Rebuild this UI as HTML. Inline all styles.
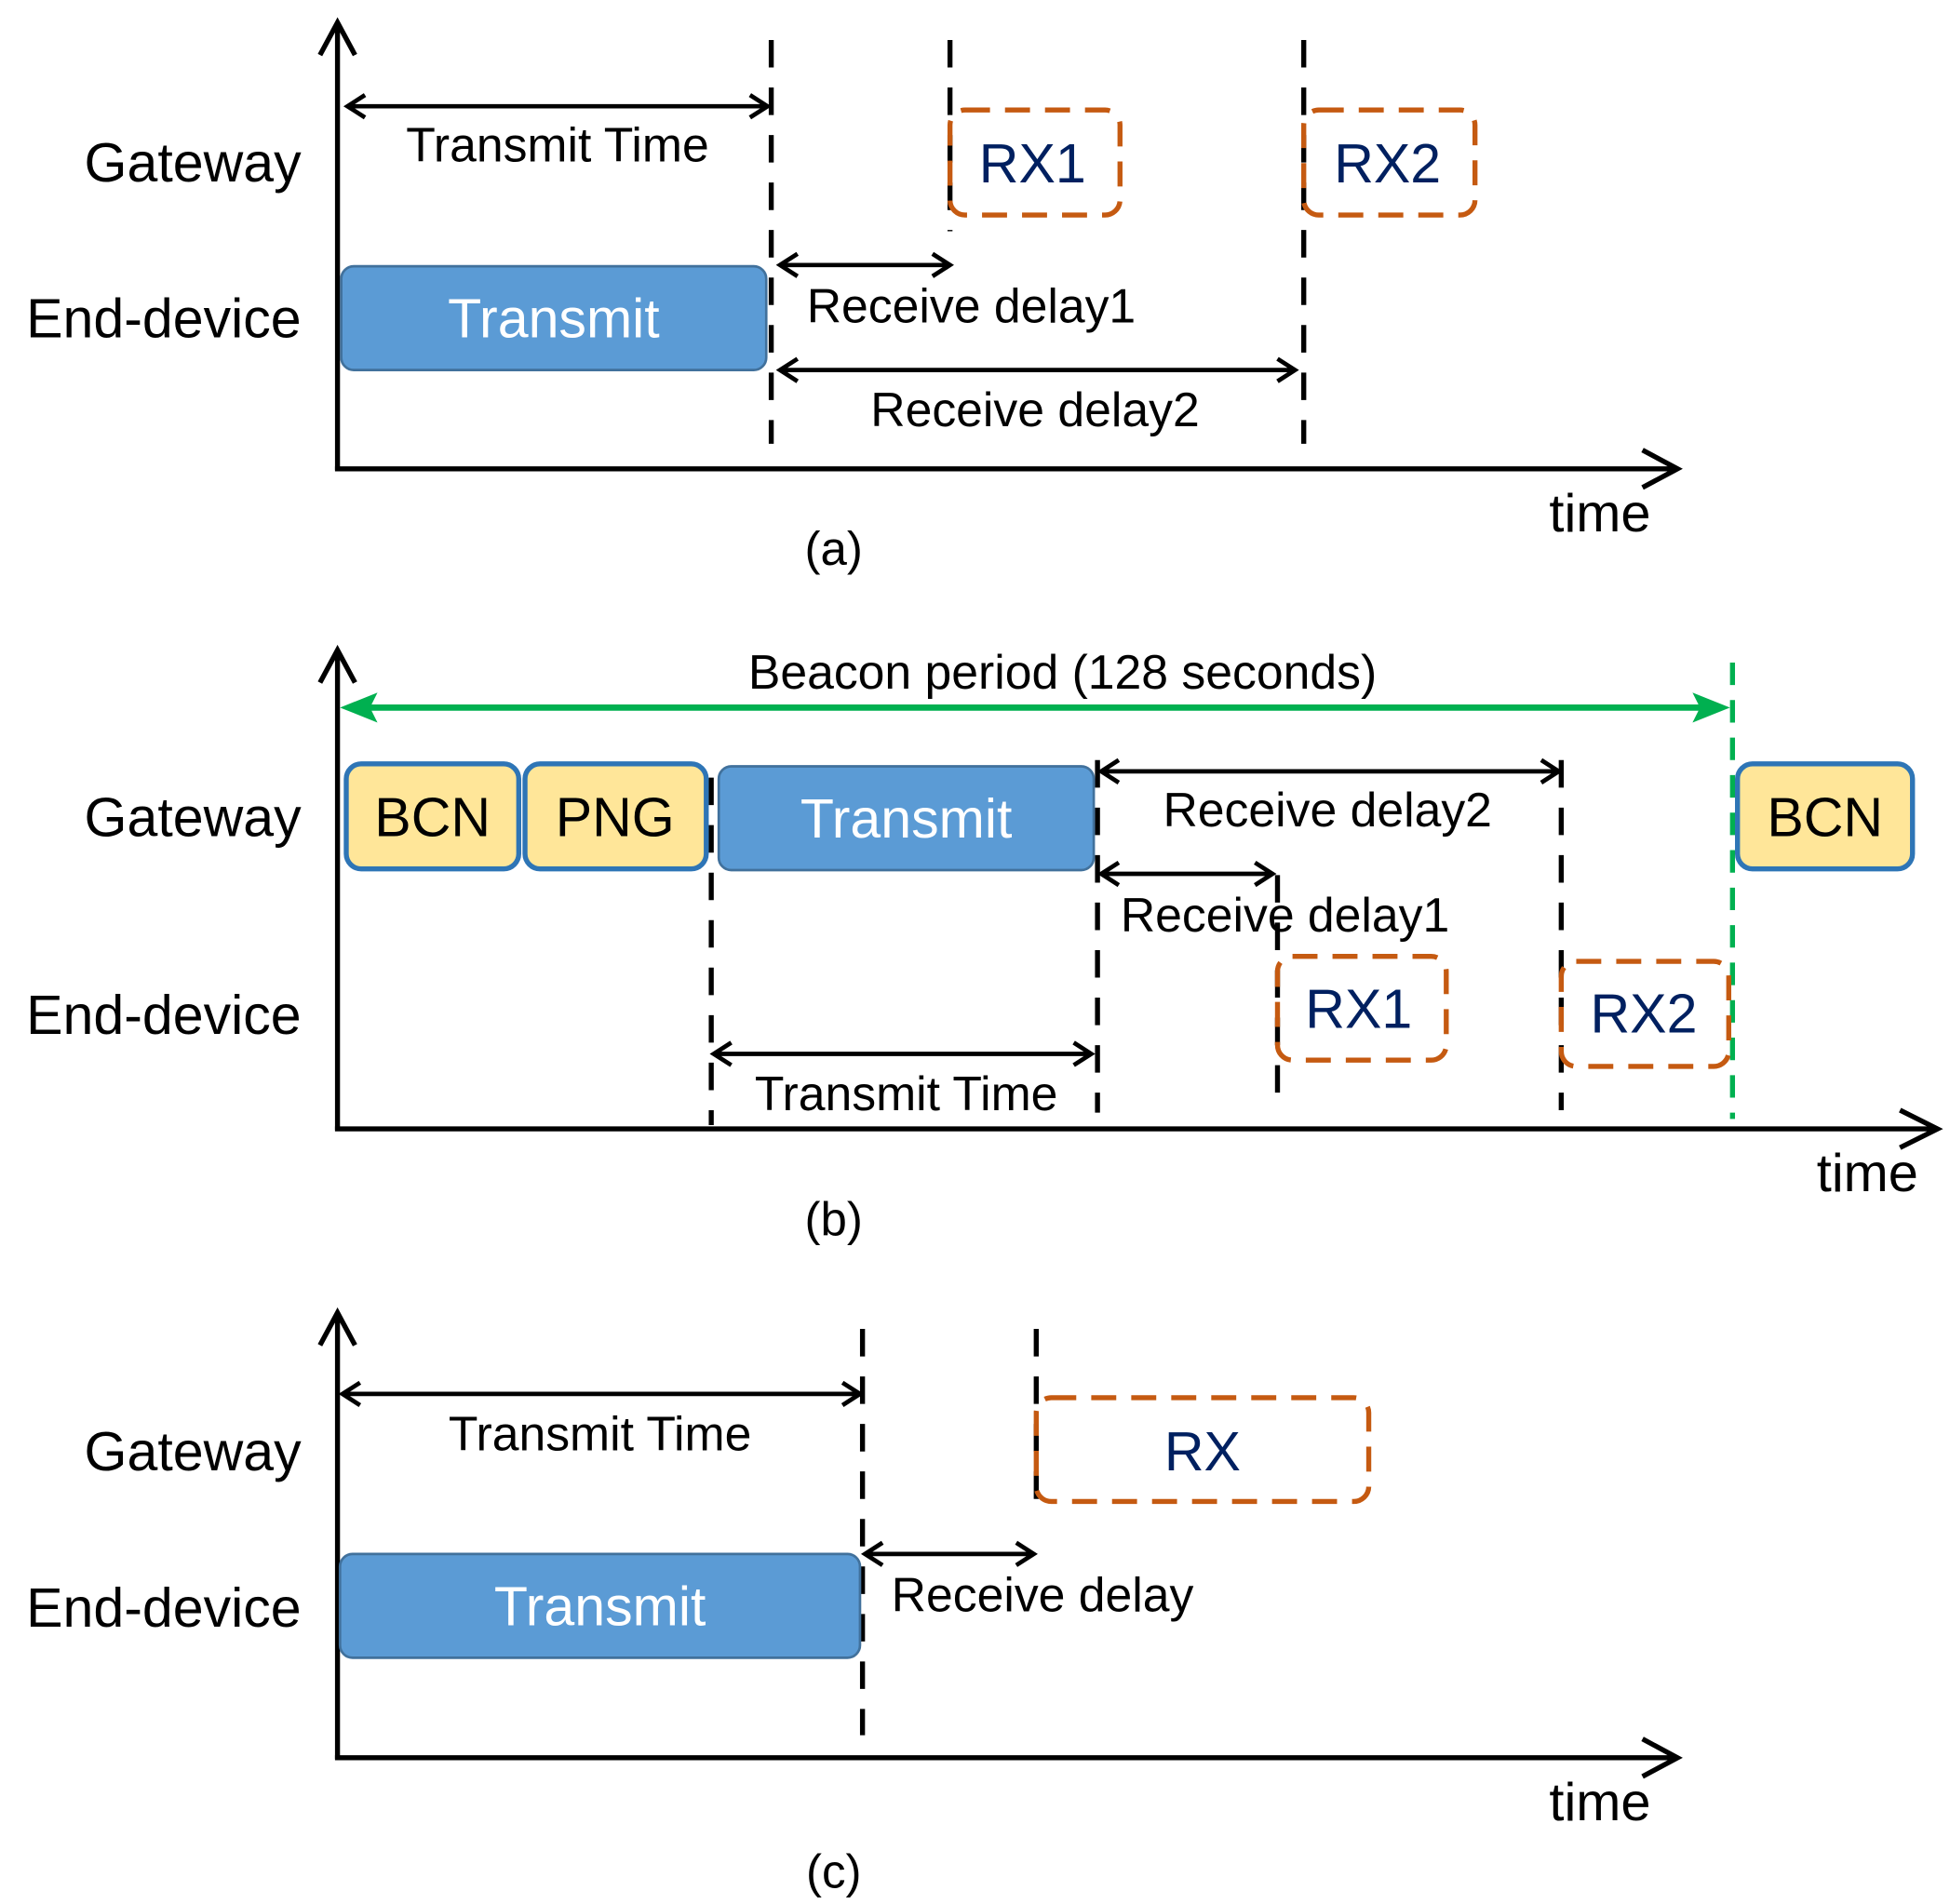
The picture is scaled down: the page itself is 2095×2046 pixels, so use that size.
<!DOCTYPE html>
<html><head><style>html,body{margin:0;padding:0;background:#fff}svg{display:block}text{font-family:"Liberation Sans",Arial,sans-serif}</style></head>
<body>
<svg width="2095" height="2046" viewBox="0 0 1560 1523" preserveAspectRatio="none" xmlns="http://www.w3.org/2000/svg">
<g fill="none" stroke="#000">
<g stroke-width="4">
<path d="M270,376 V22 M256,44 L270,18 L284,44"/>
<path d="M268,375 H1340 M1314,360 L1342,375 L1314,390"/>
<path d="M270,904 V522 M256,546 L270,520 L284,546"/>
<path d="M268,903 H1548 M1520,888 L1550,903 L1520,918"/>
<path d="M270,1407 V1052 M256,1076 L270,1050 L284,1076"/>
<path d="M268,1406 H1340 M1314,1391 L1342,1406 L1314,1421"/>
</g>
<g stroke-width="4" stroke-dasharray="22,16">
<path d="M617,32 V355 M760,32 V185 M1043,32 V355"/>
<path d="M569,622 V900 M878,608 V890 M1022,700 V888 M1249,608 V888"/>
<path d="M690,1063 V1388 M829,1063 V1215"/>
</g>
<g stroke-width="3.5">
<path d="M278,85 H614 M292,76 L278,85 L292,94 M600,76 L614,85 L600,94"/>
<path d="M624,212 H760 M638,203 L624,212 L638,221 M746,203 L760,212 L746,221"/>
<path d="M624,296 H1036 M638,287 L624,296 L638,305 M1022,287 L1036,296 L1022,305"/>
<path d="M881,617 H1247 M895,608 L881,617 L895,626 M1233,608 L1247,617 L1233,626"/>
<path d="M881,699 H1018 M895,690 L881,699 L895,708 M1004,690 L1018,699 L1004,708"/>
<path d="M571,843 H873 M585,834 L571,843 L585,852 M859,834 L873,843 L859,852"/>
<path d="M274,1115 H688 M288,1106 L274,1115 L288,1124 M674,1106 L688,1115 L674,1124"/>
<path d="M692,1243 H827 M706,1234 L692,1243 L706,1252 M813,1234 L827,1243 L813,1252"/>
</g>
</g>
<path d="M1386,530 V895" stroke="#00b050" stroke-width="4" stroke-dasharray="18,12" fill="none"/>
<path d="M290,566 H1366" stroke="#00b050" stroke-width="5" fill="none"/>
<path d="M272,566 L302,554 L296,566 L302,578z M1384,566 L1354,554 L1360,566 L1354,578z" fill="#00b050"/>
<g stroke="#41719c" stroke-width="2" fill="#5b9bd5">
<rect x="273" y="213" width="340" height="83" rx="10"/>
<rect x="575" y="613" width="300" height="83" rx="10"/>
<rect x="272" y="1243" width="416" height="83" rx="10"/>
</g>
<g stroke="#2e75b6" stroke-width="4" fill="#ffe699">
<rect x="277" y="611" width="138" height="84" rx="12"/>
<rect x="420" y="611" width="145" height="84" rx="12"/>
<rect x="1390" y="611" width="140" height="84" rx="12"/>
</g>
<g stroke="#c55a11" stroke-width="4" fill="none" stroke-dasharray="20,12">
<rect x="760" y="88" width="136" height="84" rx="12"/>
<rect x="1043" y="88" width="137" height="84" rx="12"/>
<rect x="1022" y="765" width="135" height="83" rx="12"/>
<rect x="1249" y="769" width="134" height="84" rx="12"/>
<rect x="829" y="1118" width="266" height="83" rx="12"/>
</g>
<g font-size="44" text-anchor="end" fill="#000">
<text x="241" y="145">Gateway</text><text x="241" y="270">End-device</text>
<text x="241" y="669">Gateway</text><text x="241" y="827">End-device</text>
<text x="241" y="1176">Gateway</text><text x="241" y="1301">End-device</text>
</g>
<g font-size="38.5" text-anchor="middle" fill="#000">
<text x="446" y="129">Transmit Time</text>
<text x="777" y="258">Receive delay1</text>
<text x="828" y="341">Receive delay2</text>
<text x="850" y="551">Beacon period (128 seconds)</text>
<text x="1062" y="661">Receive delay2</text>
<text x="1028" y="745">Receive delay1</text>
<text x="725" y="888">Transmit Time</text>
<text x="480" y="1160">Transmit Time</text>
<text x="834" y="1289">Receive delay</text>
</g>
<g font-size="43" text-anchor="middle" fill="#000">
<text x="1280" y="425">time</text><text x="1494" y="953">time</text><text x="1280" y="1456">time</text>
<text x="667" y="452" font-size="38">(a)</text><text x="667" y="988" font-size="38">(b)</text><text x="667" y="1510" font-size="38">(c)</text>
</g>
<g font-size="44" text-anchor="middle" fill="#fff">
<text x="443" y="270">Transmit</text><text x="725" y="670">Transmit</text><text x="480" y="1300">Transmit</text>
</g>
<g font-size="44" text-anchor="middle" fill="#000">
<text x="346" y="669">BCN</text><text x="492" y="669">PNG</text><text x="1460" y="669">BCN</text>
</g>
<g font-size="44" text-anchor="middle" fill="#002060">
<text x="826" y="146">RX1</text><text x="1110" y="146">RX2</text>
<text x="1087" y="822">RX1</text><text x="1315" y="826">RX2</text>
<text x="962" y="1176">RX</text>
</g>
</svg>
</body></html>
